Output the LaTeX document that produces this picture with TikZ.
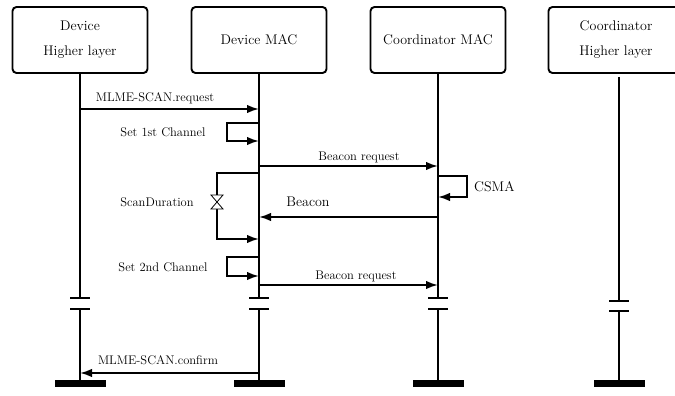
\documentclass[tikz,border=0pt]{standalone}
\usetikzlibrary{arrows.meta}

\tikzset{
  actor/.style={draw, line width=1.9pt, rounded corners=4pt,
    minimum width=135pt, minimum height=66pt, align=center,
    font=\fontsize{14}{25}\selectfont},
  life/.style={line width=1.9pt},
  brk/.style={line width=1.9pt},
  msg/.style={line width=1.9pt, -{Latex[length=12pt,width=8.5pt]}},
  lbl/.style={inner sep=0pt, font=\fontsize{12.5}{14}\selectfont},
  biglbl/.style={inner sep=0pt, font=\fontsize{14}{16}\selectfont},
  glass/.style={line width=0.8pt, fill=white},
}

\begin{document}
\begin{tikzpicture}[x=1pt, y=-1pt]
\useasboundingbox (0,0) rectangle (675,396);

% participants
\node[actor] (b1) at (80,40)  {Device\\Higher layer};
\node[actor] (b2) at (259,40) {Device MAC};
\node[actor] (b3) at (438,40) {Coordinator MAC};
\node[actor] (b4) at (616,40) {Coordinator\\Higher layer};

% lifeline break points and end bars
\foreach \i/\x/\u/\d in {1/80/298/309, 2/259/298/309, 3/438/298/309, 4/619/301/311}{
  \coordinate (u\i) at (\x,\u);
  \coordinate (d\i) at (\x,\d);
  \coordinate (e\i) at (\x,387);
  \draw[brk] ([xshift=-10pt]u\i) -- ([xshift=10pt]u\i);
  \draw[brk] ([xshift=-10pt]d\i) -- ([xshift=10pt]d\i);
  \draw[life] (d\i) -- (e\i);
  \fill ([xshift=-25.5pt]e\i) rectangle ([xshift=25.5pt,yshift=7pt]e\i);
}
\draw[life] (b1.south) -- (u1);
\draw[life] (b2.south) -- (u2);
\draw[life] (b3.south) -- (u3);
\draw[life] (619,77) -- (u4);

% MLME-SCAN.request
\coordinate (r1) at (80,109);
\coordinate (r2) at (259,109);
\draw[msg] (r1) -- (r2);
\node[lbl] at (155,98) {MLME-SCAN.request};

% Set 1st Channel
\coordinate (c1a) at (259,123);
\coordinate (c1b) at (259,141);
\draw[msg] (c1a) -- ++(-32,0) |- (c1b);
\node[lbl] at (163,132) {Set 1st Channel};

% Beacon request (first channel)
\coordinate (q1a) at (259,166);
\coordinate (q1b) at (438,166);
\draw[msg] (q1a) -- (q1b);
\node[lbl] at (359,157) {Beacon request};

% CSMA
\coordinate (cs1) at (438,176);
\coordinate (cs2) at (438,197);
\draw[msg] (cs1) -- ++(29,0) |- (cs2);
\node[biglbl, anchor=west] at (474,187) {CSMA};

% ScanDuration
\coordinate (sd1) at (259,173);
\coordinate (sd2) at (259,239);
\coordinate (hg) at (217,202);
\draw[life] (sd1) -- (217,173) -- ([yshift=-7pt]hg);
\draw[msg] ([yshift=7pt]hg) |- (sd2);
\draw[glass] ([shift={(-6pt,-7pt)}]hg) -- ([shift={(6pt,-7pt)}]hg)
  -- ([shift={(-6pt,7pt)}]hg) -- ([shift={(6pt,7pt)}]hg) -- cycle;
\node[lbl] at (157,202) {ScanDuration};

% Beacon
\coordinate (bc1) at (438,217);
\coordinate (bc2) at (259,217);
\draw[msg] (bc1) -- (bc2);
\node[biglbl] at (308,202) {Beacon};

% Set 2nd Channel
\coordinate (c2a) at (259,257);
\coordinate (c2b) at (259,276);
\draw[msg] (c2a) -- ++(-32,0) |- (c2b);
\node[lbl] at (163,267) {Set 2nd Channel};

% Beacon request (second channel)
\coordinate (q2a) at (259,285);
\coordinate (q2b) at (438,285);
\draw[msg] (q2a) -- (q2b);
\node[lbl] at (356,276) {Beacon request};

% MLME-SCAN.confirm
\coordinate (f1) at (259,373);
\coordinate (f2) at (80,373);
\draw[msg] (f1) -- (f2);
\node[lbl] at (158,360) {MLME-SCAN.confirm};
\end{tikzpicture}
\end{document}
